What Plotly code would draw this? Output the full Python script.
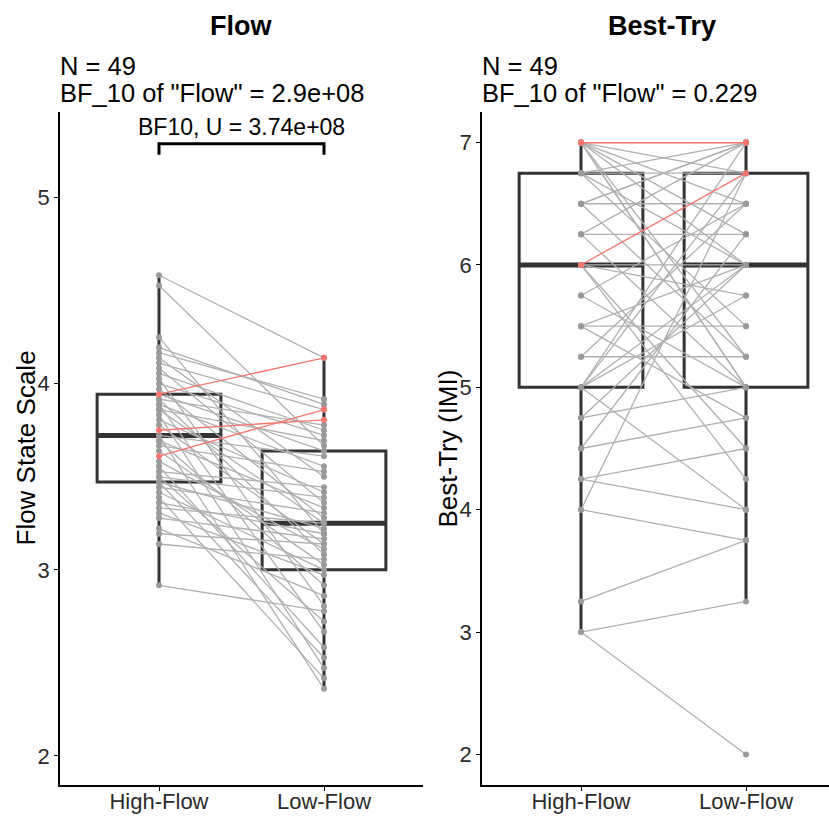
import numpy as np
import plotly.graph_objects as go

# ---------------- data ----------------
conditions = ["High-Flow", "Low-Flow"]

# Flow State Scale, paired by participant (first three = highlighted participants)
flow_high = [3.944, 3.750, 3.611, 4.583, 4.528, 4.250, 4.194, 4.167, 4.139, 4.111, 4.083,
             4.056, 4.028, 4.000, 3.972, 3.944, 3.917, 3.917, 3.889, 3.889, 3.861, 3.861,
             3.833, 3.806, 3.778, 3.722, 3.722, 3.694, 3.694, 3.667, 3.639, 3.583, 3.556,
             3.528, 3.500, 3.500, 3.472, 3.472, 3.444, 3.417, 3.389, 3.361, 3.333, 3.306,
             3.278, 3.222, 3.194, 3.139, 2.917]
flow_low = [4.139, 3.806, 3.861, 4.139, 3.667, 3.194, 3.889, 3.917, 3.500, 3.861, 3.361,
            3.750, 2.806, 3.722, 3.278, 3.639, 3.083, 3.778, 2.667, 3.556, 3.250, 3.694,
            2.472, 3.417, 3.139, 3.611, 2.361, 3.333, 2.917, 3.528, 3.028, 3.111, 2.583,
            3.444, 2.722, 3.389, 3.222, 2.528, 3.306, 3.000, 2.417, 3.194, 3.250, 2.972,
            3.167, 2.861, 3.139, 3.056, 2.778]

# Best-Try (IMI), paired by participant (first three = highlighted participants)
best_high = [7, 6, 7, 7, 7, 7, 7, 7, 7, 6.75, 6.75, 6.75, 6.5, 6.5, 6.5, 6.25, 6.25, 6.25,
             6, 6, 6, 6, 5.75, 5.75, 5.5, 5.5, 5.5, 5.25, 5.25, 5, 5, 5, 5, 5, 4.75, 4.75,
             4.5, 4.5, 4.25, 4.25, 4, 4, 3.25, 3, 3, 7, 6.75, 6.5, 7]
best_low = [7, 6.75, 7, 6, 5, 6.5, 5.25, 6.25, 7, 7, 5.5, 6.75, 6.5, 5.25, 7, 6.25, 5, 7,
            6, 4.25, 5.75, 4.5, 6.5, 5, 5.5, 6, 4.75, 6.5, 5.25, 5.75, 4, 6, 7, 6.75, 5, 6,
            4.75, 6.25, 4.5, 4, 3.75, 6.75, 3.75, 3.25, 2, 5, 6, 7, 6.75]

highlight = [0, 1, 2]

panel_titles = ["Flow", "Best-Try"]
panel_n = ["N = 49", "N = 49"]
panel_bf = ['BF_10 of "Flow" = 2.9e+08', 'BF_10 of "Flow" = 0.229']
y_titles = ["Flow State Scale", "Best-Try (IMI)"]
bracket_label = "BF10, U = 3.74e+08"

# ---------------- style ----------------
FONT = "Liberation Sans, Arial, sans-serif"
BOX_COL = "#333333"
GREY_LINE = "#b0b0b0"
GREY_PT = "#9a9a9a"
RED = "#f8766d"

fig = go.Figure()


def add_panel(high, low, xa, ya):
    xpos = [0, 1]
    for xi, vals in zip(xpos, [high, low]):
        fig.add_trace(go.Box(
            x=[xi] * len(vals), y=vals, width=0.75, boxpoints="outliers",
            quartilemethod="inclusive", whiskerwidth=0,
            fillcolor="rgba(0,0,0,0)", line=dict(color=BOX_COL, width=3),
            marker=dict(opacity=0, size=1), xaxis=xa, yaxis=ya, showlegend=False,
            hoverinfo="skip"))
        med = float(np.median(vals))
        fig.add_trace(go.Scatter(
            x=[xi - 0.375, xi + 0.375], y=[med, med], mode="lines",
            line=dict(color=BOX_COL, width=5), xaxis=xa, yaxis=ya,
            showlegend=False, hoverinfo="skip"))
    gx, gy, rx, ry = [], [], [], []
    for i, (h, l) in enumerate(zip(high, low)):
        if i in highlight:
            rx += [0, 1, None]
            ry += [h, l, None]
        else:
            gx += [0, 1, None]
            gy += [h, l, None]
    fig.add_trace(go.Scatter(x=gx, y=gy, mode="lines",
                             line=dict(color=GREY_LINE, width=1.3),
                             xaxis=xa, yaxis=ya, showlegend=False, hoverinfo="skip"))
    fig.add_trace(go.Scatter(x=[v for v in gx if v is not None],
                             y=[v for v in gy if v is not None], mode="markers",
                             marker=dict(color=GREY_PT, size=6),
                             xaxis=xa, yaxis=ya, showlegend=False, hoverinfo="skip"))
    fig.add_trace(go.Scatter(x=rx, y=ry, mode="lines+markers",
                             line=dict(color=RED, width=1.3),
                             marker=dict(color=RED, size=6),
                             xaxis=xa, yaxis=ya, showlegend=False, hoverinfo="skip"))


add_panel(flow_high, flow_low, "x", "y")
add_panel(best_high, best_low, "x2", "y2")

# significance bracket on the Flow panel
br_y, br_tick = 5.29, 5.23
fig.add_trace(go.Scatter(x=[0, 0, 1, 1], y=[br_tick, br_y, br_y, br_tick], mode="lines",
                         line=dict(color="black", width=3), xaxis="x", yaxis="y",
                         showlegend=False, hoverinfo="skip"))

W, H = 829, 816
ML, MR, MT, MB = 60, 0, 112, 31
pw = W - ML - MR
ph = H - MT - MB


def px2paper_x(px):
    return (px - ML) / pw


def py2paper_y(py):
    return (H - MB - py) / ph


axis_common = dict(showgrid=False, zeroline=False, showline=True, linecolor="black",
                   linewidth=1.5, ticks="outside", ticklen=4, tickcolor="black",
                   tickwidth=1.2, automargin=False,
                   tickfont=dict(size=22, color="#2b2b2b", family=FONT))

fig.update_layout(
    width=W, height=H, margin=dict(l=ML, r=MR, t=MT, b=MB, autoexpand=False),
    plot_bgcolor="white", paper_bgcolor="white",
    font=dict(family=FONT, color="black"),
    xaxis=dict(domain=[0, px2paper_x(423)], range=[-0.6, 1.6], ticklabelstandoff=-8,
               tickvals=[0, 1], ticktext=conditions, **axis_common),
    yaxis=dict(range=[1.844, 5.46], tickvals=[2, 3, 4, 5], **axis_common),
    xaxis2=dict(domain=[px2paper_x(482), 1], range=[-0.6, 1.503], anchor="y2",
                ticklabelstandoff=-8,
                tickvals=[0, 1], ticktext=conditions, **axis_common),
    yaxis2=dict(range=[1.75, 7.25], anchor="x2", tickvals=[2, 3, 4, 5, 6, 7],
                **axis_common),
)

annots = []
title_centers = [px2paper_x(241), px2paper_x(662)]
left_edges = [px2paper_x(60), px2paper_x(482)]
ytitle_x = [px2paper_x(25), px2paper_x(447)]
for k in range(2):
    annots.append(dict(text="<b>%s</b>" % panel_titles[k], x=title_centers[k],
                       y=py2paper_y(26), xref="paper", yref="paper", showarrow=False,
                       xanchor="center", yanchor="middle",
                       font=dict(size=27, family=FONT, color="black")))
    annots.append(dict(text=panel_n[k], x=left_edges[k], y=py2paper_y(66),
                       xref="paper", yref="paper", showarrow=False,
                       xanchor="left", yanchor="middle", xshift=-2,
                       font=dict(size=25.5, family=FONT, color="black")))
    annots.append(dict(text=panel_bf[k], x=left_edges[k], y=py2paper_y(93),
                       xref="paper", yref="paper", showarrow=False,
                       xanchor="left", yanchor="middle", xshift=-2,
                       font=dict(size=25.5, family=FONT, color="black")))
    annots.append(dict(text=y_titles[k], x=ytitle_x[k], y=0.5, textangle=-90,
                       xref="paper", yref="paper", showarrow=False,
                       xanchor="center", yanchor="middle",
                       font=dict(size=26, family=FONT, color="black")))
annots.append(dict(text=bracket_label, x=0.5, y=5.38, xref="x", yref="y",
                   showarrow=False, xanchor="center", yanchor="middle",
                   font=dict(size=23, family=FONT, color="black")))
fig.update_layout(annotations=annots)

fig.write_html("out.html", config={"displayModeBar": False},
               post_script="document.body.style.margin='0px';")
